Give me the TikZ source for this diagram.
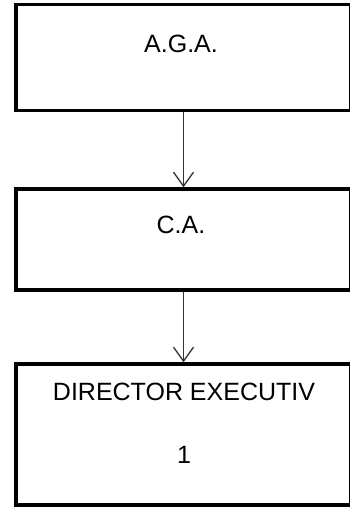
\documentclass[tikz,border=0pt]{standalone}
\usepackage{fontspec}
\setmainfont{Liberation Sans}
\usetikzlibrary{positioning}
\usetikzlibrary{arrows.meta}

\begin{document}
\begin{tikzpicture}[auto, x=1pt, y=1pt,
  box/.style={draw, line width=3.5pt, rectangle, inner sep=0pt, minimum width=335pt},
  lbl/.style={anchor=base, inner sep=0pt, font=\fontsize{25}{30}\selectfont},
  link/.style={-{Straight Barb[length=14pt, width=20pt]}, line width=1.3pt, black!80}]

\useasboundingbox (0,0) rectangle (349,-509);

\node[box, minimum height=106pt] (aga) at (183.5,-57.5) {};
\node[box, minimum height=101pt] (ca) at (183.5,-239.5) {};
\node[box, minimum height=141pt] (dir) at (183.5,-434.5) {};

\node[lbl] (agatext) at (181,-52) {A.G.A.};
\node[lbl] (catext) at (181,-233) {C.A.};
\node[lbl] (dirtext) at (184,-400) {DIRECTOR EXECUTIV};
\node[lbl] (dirnum) at (184,-463) {1};

\draw[link] (aga) -- (ca);
\draw[link] (ca) -- (dir);

\end{tikzpicture}
\end{document}
